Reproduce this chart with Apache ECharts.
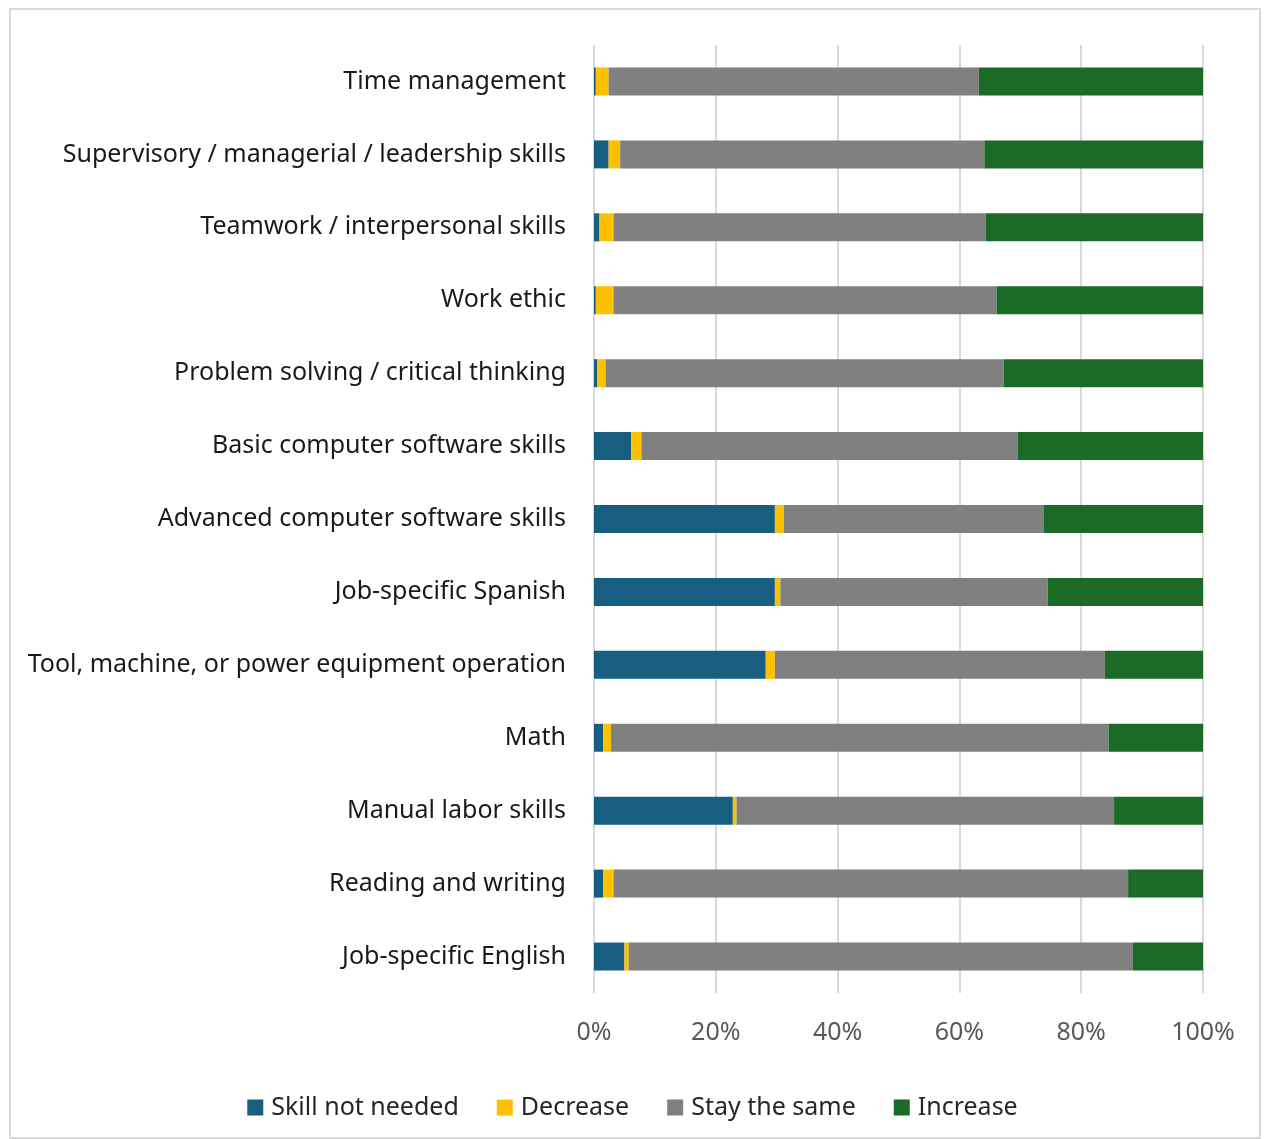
<!DOCTYPE html>
<html><head><meta charset="utf-8">
<script src="https://cdn.jsdelivr.net/npm/echarts@6/dist/echarts.min.js"></script>
<style>html,body{margin:0;padding:0;background:#fff}#frame{position:absolute;left:9px;top:8px;width:1252px;height:1131px;border:2px solid #d9d9d9;box-sizing:border-box}#c{position:absolute;left:0;top:0;width:1265px;height:1139px}</style>
</head><body><div id="frame"></div><div id="c"></div>
<script>
const categories = ["Time management","Supervisory / managerial / leadership skills","Teamwork / interpersonal skills","Work ethic","Problem solving / critical thinking","Basic computer software skills","Advanced computer software skills","Job-specific Spanish","Tool, machine, or power equipment operation","Math","Manual labor skills","Reading and writing","Job-specific English"];
const skillNotNeeded = [0.3,2.4,0.9,0.3,0.5,6.1,29.7,29.7,28.2,1.5,22.8,1.5,5.0];
const decrease =       [2.1,1.9,2.3,2.9,1.4,1.7,1.5,0.9,1.5,1.3,0.6,1.7,0.7];
const staySame =       [60.8,59.8,61.1,62.9,65.4,61.8,42.6,43.9,54.2,81.7,62.0,84.5,82.8];
const increase =       [36.8,35.9,35.7,33.9,32.7,30.4,26.2,25.5,16.1,15.5,14.6,12.3,11.5];
const seriesNames = ["Skill not needed","Decrease","Stay the same","Increase"];
const colors = ["#175e80","#ffc000","#808080","#1b6b27"];

const chart = echarts.init(document.getElementById('c'), null, {renderer:'canvas'});
const font = "'Noto Sans', 'Open Sans', sans-serif";
const datas = [skillNotNeeded, decrease, staySame, increase];
chart.setOption({
  animation:false,
  textStyle:{fontFamily:font},
  grid:{left:594,right:62,top:45,bottom:146},
  legend:{
    bottom:14,left:'center',itemWidth:16,itemHeight:16,itemGap:38,
    icon:'rect',
    textStyle:{fontSize:25,color:'#262626',fontFamily:font,padding:[0,0,0,3]},
    data:seriesNames
  },
  xAxis:{
    type:'value',min:0,max:100,interval:20,
    axisLabel:{formatter:'{value}%',fontSize:25,color:'#595959',margin:27,fontFamily:font},
    splitLine:{show:true,lineStyle:{color:'#d9d9d9',width:2}},
    axisLine:{show:false},axisTick:{show:false}
  },
  yAxis:{
    type:'category',inverse:true,data:categories,
    axisLabel:{fontSize:25,color:'#1a1a1a',margin:28,fontFamily:font},
    axisLine:{show:false},axisTick:{show:false}
  },
  series: seriesNames.map((n,i)=>({
    name:n,type:'bar',stack:'total',data:datas[i],barWidth:28,
    itemStyle:{color:colors[i]}
  }))
});
</script></body></html>
